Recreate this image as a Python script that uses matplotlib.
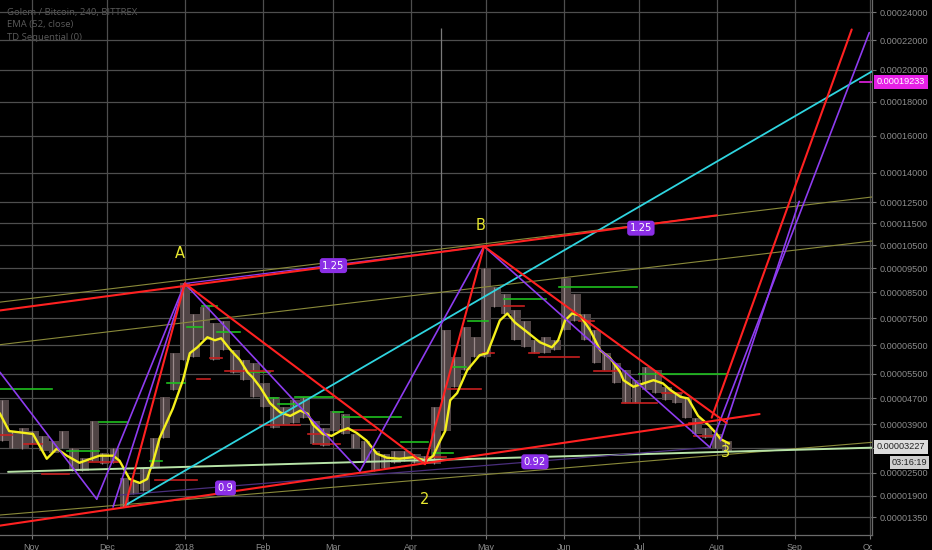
import numpy as np
import pandas as pd
import matplotlib
matplotlib.use('Agg')
import matplotlib.pyplot as plt
import matplotlib.dates as mdates
from matplotlib.transforms import Bbox, TransformedBbox

SAT = 1e-8  # all prices below are in satoshi

# 4-day candle bins (high / low)
bin_start = '2017-10-21'
bin_high = [4641, 3692, 3777, 3692, 3549, 3407, 3692, 3207, 2922, 3988,
            3065, 3207, 2363, 2284, 2637, 3492, 4739, 6215, 8878, 7675,
            7910, 7299, 7408, 6320, 5973, 5868, 5195, 4739, 4412, 4641,
            4739, 3988, 3777, 4314, 4216, 3606, 3407, 3122, 3036, 3122,
            3122, 3036, 2979, 4412, 7043, 6077, 7152, 6786, 9509, 8709,
            8457, 7793, 7408, 6677, 6786, 6677, 9091, 8457, 7675, 7043,
            6215, 5868, 5625, 5292, 5729, 5625, 5065, 4869, 4739, 4085,
            3777, 3606, 3407]
bin_low = [3407, 3207, 3179, 3321, 3122, 3065, 3207, 2551, 2551, 2836,
           2751, 2780, 1602, 1942, 2021, 2637, 3492, 4967, 5973, 6077,
           6677, 5973, 6320, 5521, 5292, 4739, 4412, 3777, 3891, 3923,
           4085, 3321, 3264, 3692, 3606, 3207, 2836, 2551, 2637, 2780,
           2836, 2780, 2751, 2751, 3692, 5065, 5625, 6077, 6077, 7910,
           7675, 6677, 6424, 6215, 6215, 6320, 7043, 7408, 6677, 5868,
           5625, 5195, 4543, 4543, 4967, 4869, 4641, 4543, 4085, 3606,
           3492, 3207, 3122]

spike_date = '2018-04-13'
spike_high = 22850
spike_low = 4641

# EMA (52, close)
ema_dates = ['2017-10-19 09:00', '2017-10-23', '2017-11-01 12:00', '2017-11-07', '2017-11-11',
             '2017-11-15', '2017-11-20', '2017-11-28', '2017-12-03 12:00', '2017-12-06',
             '2017-12-10', '2017-12-14', '2017-12-17', '2017-12-18', '2017-12-19 06:00',
             '2017-12-22', '2017-12-27 06:00', '2017-12-31 06:00', '2018-01-03', '2018-01-06',
             '2018-01-10', '2018-01-13', '2018-01-15 12:00', '2018-01-19', '2018-01-23',
             '2018-01-26', '2018-01-28', '2018-01-31', '2018-02-04', '2018-02-08',
             '2018-02-12', '2018-02-16', '2018-02-19', '2018-02-21', '2018-02-25',
             '2018-02-28 12:00', '2018-03-04', '2018-03-07', '2018-03-10 12:00', '2018-03-14 12:00',
             '2018-03-18 12:00', '2018-03-22 12:00', '2018-03-27 12:00', '2018-04-02', '2018-04-07 12:00',
             '2018-04-10', '2018-04-12 18:00', '2018-04-14 18:00', '2018-04-16 18:00', '2018-04-19 12:00',
             '2018-04-23 12:00', '2018-04-28 12:00', '2018-05-01 12:00', '2018-05-03 12:00', '2018-05-06 12:00',
             '2018-05-09 12:00', '2018-05-12 12:00', '2018-05-17 12:00', '2018-05-22 12:00', '2018-05-27 06:00',
             '2018-05-29 18:00', '2018-06-01 12:00', '2018-06-04 06:00', '2018-06-07 12:00', '2018-06-11 12:00',
             '2018-06-15 12:00', '2018-06-19 12:00', '2018-06-23 12:00', '2018-06-24 18:00', '2018-06-28 18:00',
             '2018-07-02 18:00', '2018-07-06 18:00', '2018-07-10 12:00', '2018-07-13 12:00', '2018-07-17 12:00',
             '2018-07-20 12:00', '2018-07-24 12:00', '2018-07-28 12:00', '2018-07-31 12:00', '2018-08-02 12:00',
             '2018-08-05 18:00']
ema_vals = [4216, 3692, 3606, 2893, 3179,
            2979, 2780, 2979, 2979, 2836,
            2337, 2232, 2337, 2551, 2780,
            3492, 4380, 5292, 6215, 6424,
            6786, 6677, 6750, 6354, 5973,
            5556, 5390, 5065, 4543, 4259,
            4150, 4314, 4216, 3891, 3606,
            3549, 3692, 3777, 3635, 3407,
            3036, 2922, 2893, 2936, 2836,
            2979, 3407, 3692, 4641, 4869,
            5625, 6146, 6215, 6677, 7408,
            7675, 7335, 6969, 6603, 6424,
            6677, 7408, 7675, 7597, 7043,
            6320, 6042, 5556, 5292, 5075,
            5185, 5292, 5185, 4967, 4749,
            4697, 4150, 3883, 3644, 3455,
            3330]

# TD Sequential levels: (start, end, price)
green_lvls = [('2017-10-19', '2017-11-09', 5000), ('2017-11-15', '2017-11-28', 3122),
              ('2017-11-28', '2017-12-09', 3956), ('2017-12-18', '2017-12-23', 2836),
              ('2017-12-25', '2018-01-01', 5204), ('2018-01-02', '2018-01-08', 7152),
              ('2018-01-08', '2018-01-14', 7949), ('2018-01-14', '2018-01-23', 6980),
              ('2018-01-26', '2018-02-04', 5566), ('2018-02-03', '2018-02-07', 4716),
              ('2018-02-07', '2018-02-14', 4533), ('2018-02-14', '2018-03-01', 4749),
              ('2018-03-01', '2018-03-05', 4259), ('2018-03-05', '2018-03-28', 4119),
              ('2018-03-28', '2018-04-08', 3359), ('2018-04-10', '2018-04-18', 3045),
              ('2018-04-18', '2018-04-23', 5719), ('2018-04-24', '2018-05-02', 7408),
              ('2018-05-08', '2018-05-25', 8250), ('2018-05-30', '2018-06-30', 8722),
              ('2018-07-01', '2018-08-05', 5510)]
red_lvls = [('2017-10-19', '2017-10-24', 3569), ('2017-10-29', '2017-11-05', 3321),
            ('2017-11-05', '2017-11-16', 2476), ('2017-11-24', '2017-12-06', 2808),
            ('2017-12-20', '2018-01-06', 2311), ('2018-01-06', '2018-01-11', 5347),
            ('2018-01-11', '2018-01-16', 6059), ('2018-01-17', '2018-02-05', 5608),
            ('2018-01-31', '2018-02-16', 3883), ('2018-02-19', '2018-02-27', 3598),
            ('2018-02-21', '2018-03-04', 3313), ('2018-03-04', '2018-03-18', 3715),
            ('2018-04-08', '2018-04-15', 2930), ('2018-04-16', '2018-04-29', 5000),
            ('2018-04-30', '2018-05-04', 6205), ('2018-05-08', '2018-05-16', 7949),
            ('2018-05-18', '2018-05-22', 6226), ('2018-05-22', '2018-06-07', 6087),
            ('2018-06-07', '2018-06-13', 7408), ('2018-06-13', '2018-06-23', 5608),
            ('2018-06-24', '2018-07-08', 4566), ('2018-07-10', '2018-07-18', 4885),
            ('2018-07-21', '2018-07-26', 3933), ('2018-07-23', '2018-07-30', 3549)]

# drawing points
pt_X = ('2017-12-08 05:00', 1626)
pt_A = ('2018-01-01 00:00', 8866)
pt_2 = ('2018-04-06 17:00', 2742)
pt_B = ('2018-04-30 05:00', 10450)
pt_3 = ('2018-07-29 05:00', 3216)
pt_p1 = ('2017-11-26 22:00', 1811)
pt_p2 = ('2017-12-03 10:00', 1610)
pt_pm = ('2018-03-11 19:00', 2551)

red_lines = [(('2017-10-19 09:00', 7793), ('2018-08-01 00:00', 11875)),
             (('2017-10-19 09:00', 1150), ('2018-08-18 00:00', 4207)),
             (pt_X, pt_A), (pt_A, pt_2), (pt_2, pt_B),
             (pt_B, ('2018-08-04 22:00', 3933)),
             (('2018-07-29 22:00', 4096), ('2018-09-23 17:00', 22755))]
purple_lines = [(('2017-10-19 09:00', 5556), pt_p1), (pt_p1, pt_A), (pt_p2, pt_A),
                (pt_A, pt_pm), (pt_pm, pt_B), (pt_B, pt_3),
                (pt_3, ('2018-09-30 17:00', 22535)),
                (('2018-08-02 10:00', 3407), ('2018-09-02 19:00', 12551))]
thin_purple = [(pt_A, pt_B), (('2017-12-06 05:00', 1916), pt_3)]
olive_lines = [(('2017-10-19 09:00', 8117), ('2018-10-01 19:00', 12765)),
               (('2017-10-19 09:00', 6518), ('2018-10-01 19:00', 10690)),
               (('2017-10-19 09:00', 1410), ('2018-10-01 19:00', 3361))]
cyan_line = (('2017-12-08 05:00', 1650), ('2018-10-01 19:00', 19905))
mint_line = (('2017-10-22 14:00', 2531), ('2018-10-01 19:00', 3207))

ratio_labels = [('2018-03-01 05:00', 9613, '1.25'), ('2018-07-01 17:00', 11274, '1.25'),
                ('2018-01-17 05:00', 2100, '0.9'), ('2018-05-20 12:00', 2808, '0.92')]
point_labels = [('2017-12-30', 10144, 'A'), ('2018-04-29', 11399, 'B'),
                ('2018-04-06 17:00', 1811, '2'), ('2018-08-04 14:00', 3064, '3')]

price_ticks = [24000, 22000, 20000, 18000, 16000, 14000, 12500, 11500, 10500, 9500,
               8500, 7500, 6500, 5500, 4700, 3900, 3200, 2500, 1900, 1350]
last_price = 3227
alert_price = 19233
countdown = '03:16:19'


def d(s):
    return mdates.date2num(pd.Timestamp(s))


def fwd(v):
    return np.log(np.maximum(np.asarray(v, dtype=float) + 1e-4, 1e-9))


def inv(u):
    return np.exp(u) - 1e-4


fig = plt.figure(figsize=(9.32, 5.5), dpi=100, facecolor='black')
ax = fig.add_axes([0, 15 / 550, 872 / 932, 535 / 550])
ax.set_facecolor('black')
ax.set_yscale('function', functions=(fwd, inv))
ax.set_xlim(d('2017-10-19 09:00'), d('2018-10-01 19:00'))
ax.set_ylim(925 * SAT, 24921 * SAT)
ax.set_axisbelow(True)

# candles: dim band per bin plus lighter wick
bdates = mdates.date2num(pd.date_range(bin_start, periods=len(bin_high), freq='4D'))
hi = np.array(bin_high) * SAT
lo = np.array(bin_low) * SAT
ax.bar(bdates, hi - lo, bottom=lo, width=3.9, color='#504445', edgecolor='none', zorder=2)
ax.vlines(bdates - 0.8, lo, hi, color='#9a8a8b', lw=0.9, zorder=2)
ax.vlines(d(spike_date), spike_low * SAT, spike_high * SAT, color='#7a7a7a', lw=0.9, zorder=2)

for s, e, v in green_lvls:
    ax.plot([d(s), d(e)], [v * SAT, v * SAT], color='#1fbf1f', lw=1.2, zorder=3)
for s, e, v in red_lvls:
    ax.plot([d(s), d(e)], [v * SAT, v * SAT], color='#c82020', lw=1.2, zorder=3)

ax.plot([d(t) for t in ema_dates], np.array(ema_vals) * SAT, color='#f5f01c', lw=1.7, zorder=4)


def seg(p, q, **kw):
    ax.plot([d(p[0]), d(q[0])], [p[1] * SAT, q[1] * SAT], solid_capstyle='round', **kw)


for p, q in olive_lines:
    seg(p, q, color='#8a8a3a', lw=0.8, zorder=5)
seg(*mint_line, color='#b8e4a8', lw=1.4, zorder=5)
seg(*thin_purple[1], color='#4a2f7d', lw=0.9, zorder=5)
seg(*thin_purple[0], color='#8e3cf0', lw=0.9, zorder=5)
seg(*cyan_line, color='#2fd5e0', lw=1.3, zorder=6)
for p, q in purple_lines:
    seg(p, q, color='#8e3cf0', lw=1.2, zorder=6)
for p, q in red_lines:
    seg(p, q, color='#ff2121', lw=1.5, zorder=7)

ax.plot([d('2018-09-27'), d('2018-10-01 19:00')], [alert_price * SAT] * 2, color='#e620e6', lw=1.2, zorder=7)

for t, v, s in ratio_labels:
    ax.text(d(t), v * SAT, s, color='white', fontsize=7.2, ha='center', va='center', zorder=9,
            bbox=dict(boxstyle='round,pad=0.25,rounding_size=0.3', fc='#8b2ee6', ec='none'))
for t, v, s in point_labels:
    ax.text(d(t), v * SAT, s, color='#e8e830', fontsize=10.5, ha='center', va='center', zorder=9)

# grid / axes styling
months = pd.date_range('2017-11-01', '2018-10-01', freq='MS')
ax.set_xticks(mdates.date2num(months))
ax.set_xticklabels(['2018' if m.month == 1 else m.strftime('%b') for m in months])
ax.set_yticks(np.array(price_ticks) * SAT)
ax.set_yticklabels(['' if v == 3200 else f'{v * SAT:.8f}' for v in price_ticks])
ax.yaxis.tick_right()
ax.grid(True, color='#4e4e4e', lw=0.9)
ax.tick_params(axis='y', length=3, pad=2.5, color='#777777', labelcolor='#8c8c8c', labelsize=6.6)
ax.tick_params(axis='x', length=3, pad=2.5, color='#777777', labelcolor='#8c8c8c', labelsize=6.4)
for lbl in ax.get_xticklabels() + ax.get_yticklabels():
    lbl.set_fontfamily('Liberation Sans')
clipbox = TransformedBbox(Bbox([[0, 0], [872 / 932, 1]]), fig.transFigure)
for lbl in ax.get_xticklabels():
    lbl.set_clip_box(clipbox)
    lbl.set_clip_on(True)
for side in ['top', 'left']:
    ax.spines[side].set_visible(False)
for side in ['right', 'bottom']:
    ax.spines[side].set_color('#6a6a6a')
    ax.spines[side].set_linewidth(0.9)

# price scale markers
ytr = ax.get_yaxis_transform()
ax.text(1.0055, alert_price * SAT, f'{alert_price * SAT:.8f}', transform=ytr, ha='left', va='center',
        fontsize=6.6, color='white', family='Liberation Sans', clip_on=False, zorder=10,
        bbox=dict(boxstyle='square,pad=0.3', fc='#e620e6', ec='none'))
ax.text(1.0055, last_price * SAT, f'{last_price * SAT:.8f}', transform=ytr, ha='left', va='center',
        fontsize=6.6, color='#222222', family='Liberation Sans', clip_on=False, zorder=10,
        bbox=dict(boxstyle='square,pad=0.3', fc='#dcdcdc', ec='none'))
ax.annotate(countdown, xy=(1.0, last_price * SAT), xycoords=ytr, xytext=(39.5, -11),
            textcoords='offset points', ha='right', va='center', fontsize=6.6, color='#222222',
            family='Liberation Sans', annotation_clip=False, zorder=10,
            bbox=dict(boxstyle='square,pad=0.2', fc='#cfcfcf', ec='none'))

# legend text
legend = ['Golem / Bitcoin, 240, BITTREX', 'EMA (52, close)', 'TD Sequential (0)']
for i, s in enumerate(legend):
    ax.text(7 / 872, 1 - (12 + 12.5 * i) / 535, s, transform=ax.transAxes, ha='left', va='center',
            fontsize=6.8, color='#5a5a5a', family='Open Sans', zorder=0.3)

fig.savefig('out.png', dpi=100, facecolor='black')
